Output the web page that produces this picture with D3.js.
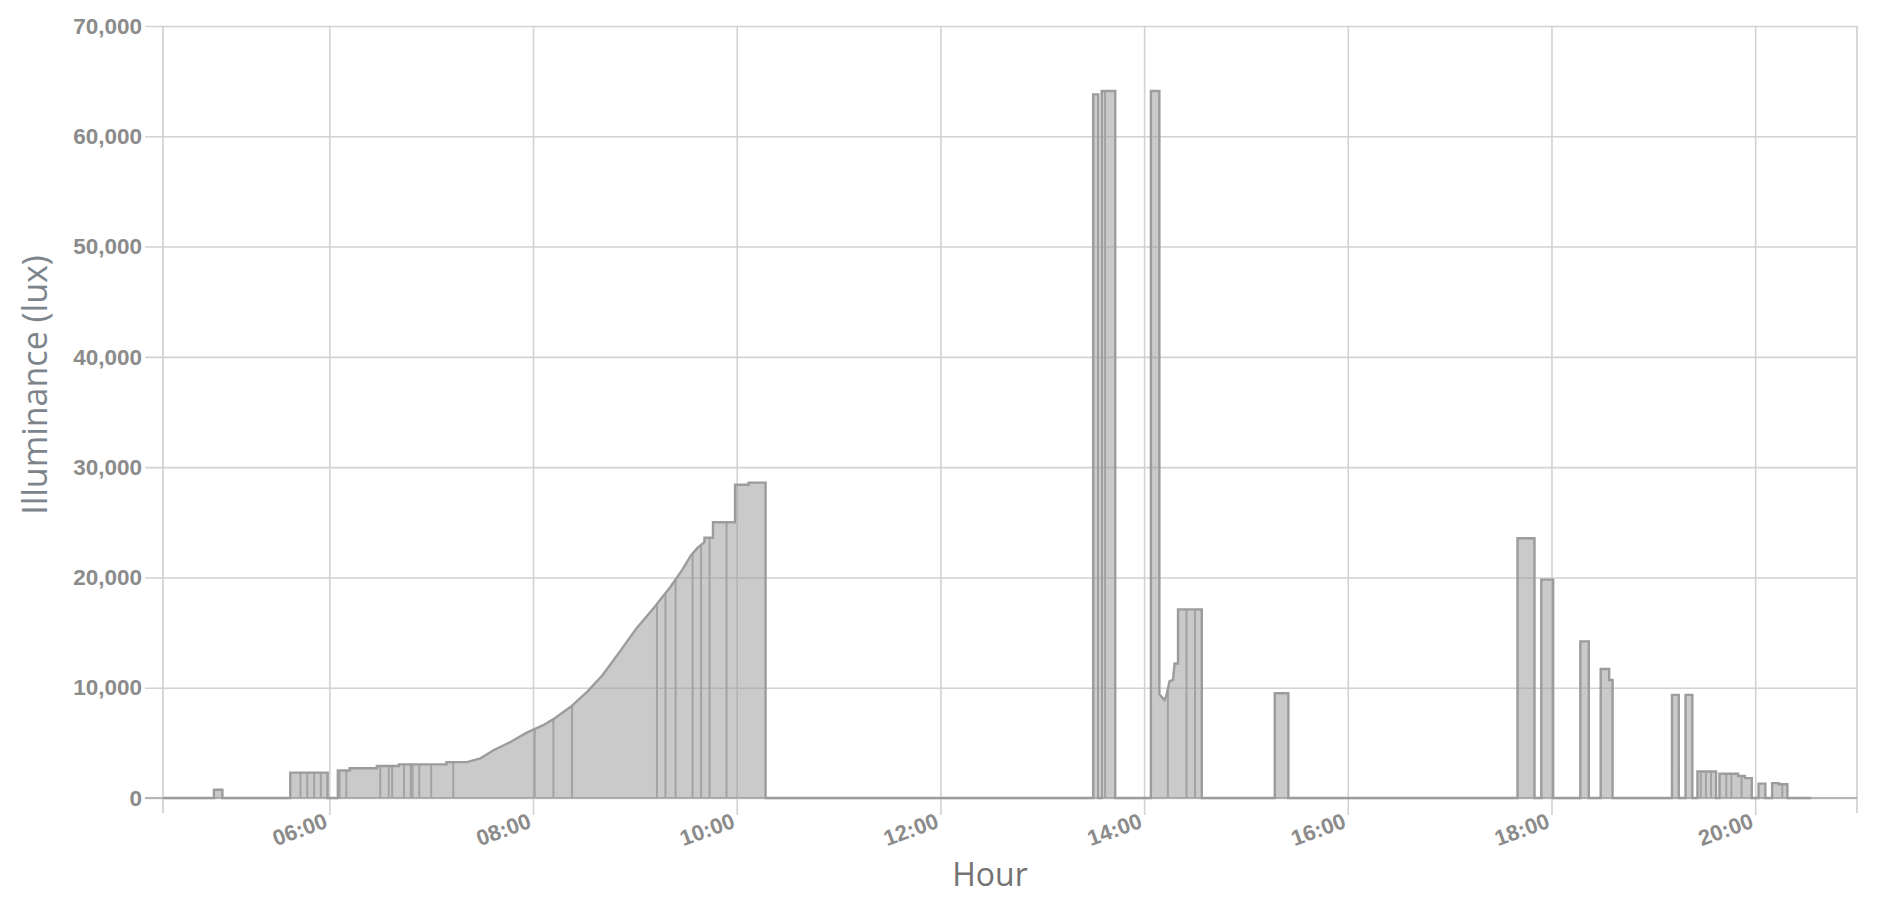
<!DOCTYPE html>
<html>
<head>
<meta charset="utf-8">
<script src="https://cdn.jsdelivr.net/npm/d3@7"></script>
<style>
  body { margin: 0; background: #ffffff; }
  svg { display: block; }
</style>
</head>
<body>
<svg id="chart" width="1878" height="898"></svg>
<script>
// ---------------- DATA ----------------
const times = [
  "04:22","04:52","04:52","04:57","04:57",
  "05:37","05:37","05:59","05:59",
  "06:05","06:05","06:12","06:12","06:28","06:28","06:41","06:41","07:09","07:09","07:21",
  "07:29","07:37","07:47","07:56","08:06","08:12","08:22","08:32","08:41","08:51",
  "09:01","09:11","09:21","09:28","09:33","09:37","09:41","09:41","09:46","09:46",
  "09:59","09:59","10:07","10:07","10:17","10:17",
  "13:30","13:30","13:33","13:33",
  "13:35","13:35","13:43","13:43",
  "14:04","14:04","14:09","14:09","14:12","14:13","14:15","14:17","14:18","14:20","14:20","14:34","14:34",
  "15:17","15:17","15:25","15:25",
  "17:40","17:40","17:50","17:50",
  "17:54","17:54","18:01","18:01",
  "18:17","18:17","18:22","18:22",
  "18:29","18:29","18:34","18:34","18:36","18:36",
  "19:11","19:11","19:15","19:15",
  "19:19","19:19","19:23","19:23",
  "19:26","19:26","19:37","19:37",
  "19:39","19:39","19:50","19:50","19:54","19:54","19:58","19:58",
  "20:02","20:02","20:06","20:06",
  "20:10","20:10","20:14","20:14","20:19","20:19",
  "20:33"
];
const lux = [
  0,0,750,750,0,
  0,2300,2300,0,
  0,2500,2500,2700,2700,2900,2900,3050,3050,3250,3250,
  3600,4350,5100,5900,6600,7150,8250,9650,11150,13250,
  15400,17200,19150,20700,22000,22700,23200,23600,23600,25000,
  25000,28400,28400,28600,28600,0,
  0,63800,63800,0,
  0,64100,64100,0,
  0,64100,64100,9400,8900,9200,10600,10700,12200,12200,17100,17100,0,
  0,9500,9500,0,
  0,23550,23550,0,
  0,19800,19800,0,
  0,14200,14200,0,
  0,11700,11700,10700,10700,0,
  0,9350,9350,0,
  0,9350,9350,0,
  0,2400,2400,0,
  0,2200,2200,2000,2000,1800,1800,0,
  0,1300,1300,0,
  0,1350,1350,1250,1250,0,
  0
];
// short sensor dropouts visible as thin vertical strokes inside the filled area
const dropouts = [
  "05:43","05:47","05:51","05:55",
  "06:06","06:10","06:30","06:35","06:37","06:44","06:48","06:49","06:53","07:00","07:13",
  "08:01","08:12","08:23","09:13","09:18","09:24","09:34","09:39","09:44","09:54",
  "13:37","14:14","14:25","14:30",
  "19:28","19:31","19:34","19:43","19:46","19:52","20:16"
];
const yTicks = [0, 10000, 20000, 30000, 40000, 50000, 60000, 70000];
const xTickLabels = ["06:00","08:00","10:00","12:00","14:00","16:00","18:00","20:00"];
const xDomain = ["04:22", "21:00"];

// ---------------- CHART ----------------
const parse = d3.timeParse("%H:%M");
const svg = d3.select("#chart");
const plotL = 163, plotR = 1857, plotT = 26, plotB = 798;

const x = d3.scaleTime().domain(xDomain.map(parse)).range([plotL, plotR]);
const y = d3.scaleLinear().domain([0, 70000]).range([plotB, plotT]);

const data = times.map((t, i) => ({ t: parse(t), v: lux[i] }));

// Y grid + labels
const yAxis = d3.axisLeft(y)
  .tickValues(yTicks)
  .tickSize(-(plotR - 145))
  .tickPadding(3)
  .tickFormat(d3.format(","));
const gy = svg.append("g").attr("transform", "translate(145,0)").call(yAxis);
gy.select(".domain").remove();
gy.selectAll(".tick line").attr("stroke", "#d2d2d2").attr("stroke-width", 1.6);
gy.selectAll(".tick text")
  .attr("fill", "#8b8b8b")
  .style("font-family", "'Liberation Sans', Arial, sans-serif")
  .style("font-weight", "bold")
  .style("font-size", "22.5px");

// X grid + labels
const xTicks = xTickLabels.map(parse);
const xAxis = d3.axisBottom(x)
  .tickValues(xTicks)
  .tickSize(-(815 - plotT))
  .tickFormat(d3.timeFormat("%H:%M"));
const gx = svg.append("g").attr("transform", "translate(0,815)").call(xAxis);
gx.select(".domain").remove();
gx.selectAll(".tick line").attr("stroke", "#d2d2d2").attr("stroke-width", 1.6);
gx.selectAll(".tick text")
  .attr("x", 0).attr("y", 0).attr("dy", 0)
  .attr("text-anchor", "end")
  .attr("transform", "translate(-1,12) rotate(-20)")
  .attr("fill", "#8b8b8b")
  .style("font-family", "'Liberation Sans', Arial, sans-serif")
  .style("font-weight", "bold")
  .style("font-size", "22px");

// plot frame edges (left and right)
svg.append("g").selectAll("line").data(x.domain()).join("line")
  .attr("x1", d => x(d)).attr("x2", d => x(d))
  .attr("y1", plotT).attr("y2", 813)
  .attr("stroke", "#cfcfcf").attr("stroke-width", 1.6);

// zero baseline, slightly darker
svg.append("line")
  .attr("x1", 145).attr("x2", plotR).attr("y1", y(0)).attr("y2", y(0))
  .attr("stroke", "#b4b4b4").attr("stroke-width", 1.8);

// area
const area = d3.area().x(d => x(d.t)).y0(y(0)).y1(d => y(d.v));
const line = d3.line().x(d => x(d.t)).y(d => y(d.v));

svg.append("clipPath").attr("id", "areaClip")
  .append("path").attr("d", area(data));

svg.append("path")
  .attr("d", area(data))
  .attr("fill", "rgba(150,150,150,0.5)");

// dropout strokes clipped to the area shape
svg.append("g").attr("clip-path", "url(#areaClip)")
  .selectAll("line").data(dropouts.map(parse)).join("line")
  .attr("x1", d => x(d)).attr("x2", d => x(d))
  .attr("y1", y(0)).attr("y2", y(70000))
  .attr("stroke", "#a3a3a3").attr("stroke-width", 2);

svg.append("path")
  .attr("d", line(data))
  .attr("fill", "none")
  .attr("stroke", "#9c9c9c")
  .attr("stroke-width", 2.4)
  .attr("stroke-linejoin", "miter");

// axis titles
svg.append("text")
  .attr("x", 990).attr("y", 886)
  .attr("text-anchor", "middle")
  .attr("fill", "#737373")
  .style("font-family", "'Open Sans', sans-serif")
  .style("font-size", "32px")
  .text("Hour");

svg.append("text")
  .attr("transform", "translate(47,385) rotate(-90)")
  .attr("text-anchor", "middle")
  .attr("fill", "#7d848c")
  .style("font-family", "'Open Sans', sans-serif")
  .style("font-size", "34px")
  .text("Illuminance (lux)");
</script>
</body>
</html>
